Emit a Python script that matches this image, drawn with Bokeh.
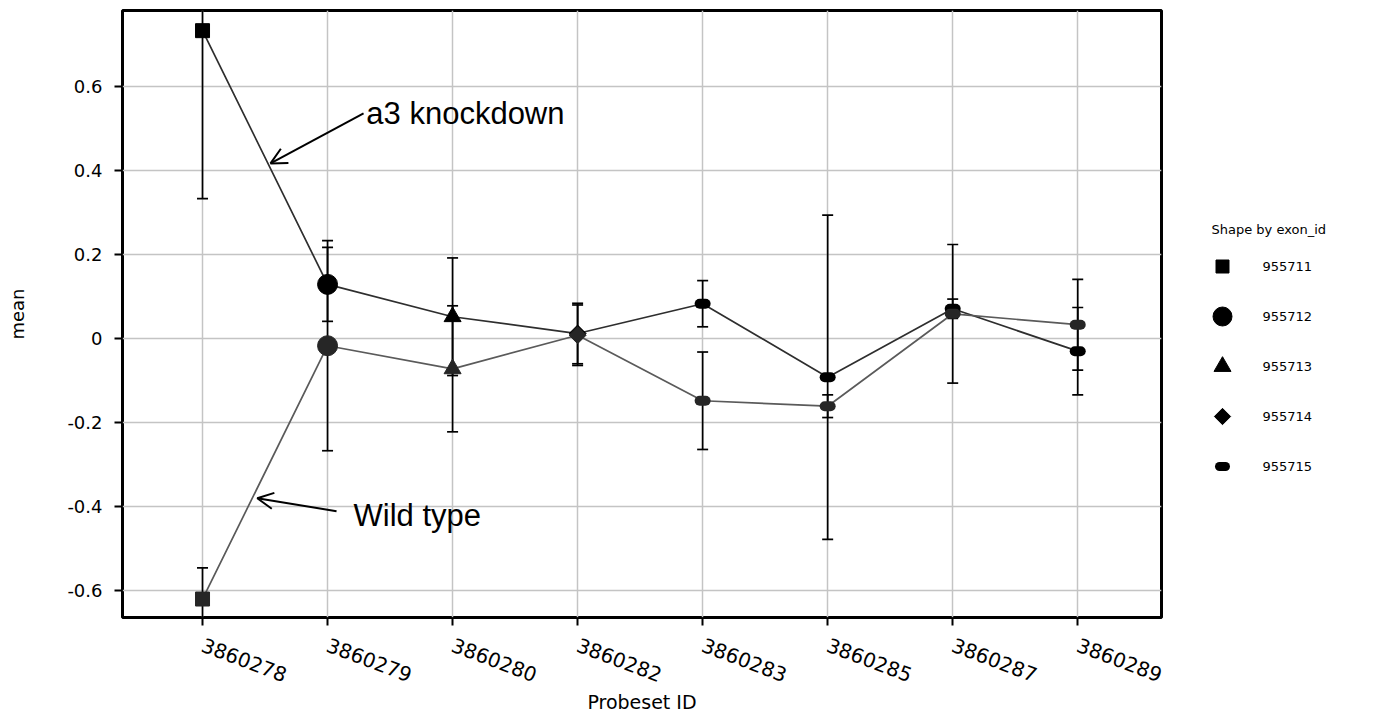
import math
from bokeh.plotting import figure
from bokeh.models import Range1d, FixedTicker, ColumnDataSource, Arrow, OpenHead, Label, CDSView, GroupFilter
from bokeh.layouts import row
from bokeh.embed import file_html
from bokeh.resources import INLINE

# ---- data ----
probesets = ["3860278", "3860279", "3860280", "3860282",
             "3860283", "3860285", "3860287", "3860289"]
exon_ids = ["955711", "955712", "955713", "955714",
            "955715", "955715", "955715", "955715"]
knockdown_mean = [0.733, 0.129, 0.052, 0.012, 0.083, -0.092, 0.071, -0.030]
knockdown_err = [0.400, 0.088, 0.140, 0.072, 0.055, 0.386, 0.023, 0.104]
wild_mean = [-0.620, -0.017, -0.072, 0.008, -0.148, -0.161, 0.059, 0.033]
wild_err = [0.074, 0.250, 0.150, 0.072, 0.116, 0.027, 0.165, 0.108]
shape_order = ["955711", "955712", "955713", "955714", "955715"]
y_ticks = [-0.6, -0.4, -0.2, 0.0, 0.2, 0.4, 0.6]
y_tick_labels = ["-0.6", "-0.4", "-0.2", "0", "0.2", "0.4", "0.6"]

x_idx = list(range(len(probesets)))

styles = {
    "955711": dict(marker="square", size=14, angle=0.0),
    "955712": dict(marker="circle", size=20, angle=0.0),
    "955713": dict(marker="triangle", size=17, angle=0.0),
    "955714": dict(marker="square", size=12, angle=math.pi / 4),
    "955715": dict(marker="dash", size=6, angle=0.0),
}

FONT = "DejaVu Sans"
BT, BB = 10, 99          # top / bottom borders shared by both panels
H = 716

p = figure(width=1190, height=H, output_backend="svg", toolbar_location=None,
           x_range=Range1d(-0.64, 7.67), y_range=Range1d(-0.664, 0.781),
           min_border_left=122, min_border_right=29, min_border_top=BT,
           min_border_bottom=BB)
p.background_fill_color = "white"
p.border_fill_color = "white"
p.outline_line_color = "black"
p.outline_line_width = 3

p.xaxis.ticker = FixedTicker(ticks=x_idx)
p.xaxis.major_label_overrides = {i: lab for i, lab in enumerate(probesets)}
p.xaxis.major_label_orientation = -0.36
p.xaxis.axis_label = "Probeset ID"
p.yaxis.ticker = FixedTicker(ticks=y_ticks)
p.yaxis.major_label_overrides = {t: s for t, s in zip(y_ticks, y_tick_labels)}
p.yaxis.axis_label = "mean"

for ax in (p.xaxis[0], p.yaxis[0]):
    ax.axis_line_color = None
    ax.major_tick_out = 8
    ax.major_tick_in = 0
    ax.major_tick_line_width = 2
    ax.major_tick_line_color = "black"
    ax.minor_tick_line_color = None
    ax.major_label_text_font = FONT
    ax.major_label_text_color = "black"
    ax.axis_label_text_font = FONT
    ax.axis_label_text_font_style = "normal"
    ax.axis_label_text_color = "black"
p.yaxis.major_label_text_font_size = "18px"
p.yaxis.major_label_standoff = 12
p.yaxis.axis_label_text_font_size = "18px"
p.yaxis.axis_label_standoff = 36
p.xaxis.major_label_text_font_size = "20px"
p.xaxis.major_label_standoff = 19
p.xaxis.axis_label_text_font_size = "19px"
p.xaxis.axis_label_standoff = -1

p.xgrid.grid_line_color = "#c4c4c4"
p.ygrid.grid_line_color = "#c4c4c4"
p.xgrid.grid_line_width = 1.5
p.ygrid.grid_line_width = 1.5

series = [
    (knockdown_mean, knockdown_err, "#2e2e2e", "#000000"),
    (wild_mean, wild_err, "#5a5a5a", "#262626"),
]

for means, errs, lcol, mcol in series:
    src = ColumnDataSource(dict(
        x=x_idx, y=means,
        upper=[m + e for m, e in zip(means, errs)],
        lower=[m - e for m, e in zip(means, errs)],
        exon=exon_ids))
    p.line("x", "y", source=src, line_color=lcol, line_width=1.7)
    p.segment(x0="x", y0="lower", x1="x", y1="upper", source=src,
              line_color="black", line_width=1.7)
    p.scatter("x", "upper", source=src, marker="dash", size=11,
              line_color="black", line_width=1.7)
    p.scatter("x", "lower", source=src, marker="dash", size=11,
              line_color="black", line_width=1.7)

for means, errs, lcol, mcol in series:
    src = ColumnDataSource(dict(x=x_idx, y=means, exon=exon_ids))
    for eid in shape_order:
        st = styles[eid]
        view = CDSView(filter=GroupFilter(column_name="exon", group=eid))
        if st["marker"] == "dash":
            p.scatter("x", "y", source=src, view=view, marker="dash",
                      size=st["size"], line_color=mcol, line_width=10,
                      line_cap="round")
        else:
            p.scatter("x", "y", source=src, view=view, marker=st["marker"],
                      size=st["size"], angle=st["angle"],
                      fill_color=mcol, line_color=mcol, line_width=1)

# annotations
p.add_layout(Arrow(end=OpenHead(size=16, line_width=2, line_color="black"),
                   x_start=1.288, y_start=0.536, x_end=0.544, y_end=0.417,
                   line_width=2, line_color="black"))
p.add_layout(Label(x=1.31, y=0.536, text="a3 knockdown",
                   text_font="Liberation Sans", text_font_size="31px",
                   text_baseline="alphabetic", text_color="black"))
p.add_layout(Arrow(end=OpenHead(size=16, line_width=2, line_color="black"),
                   x_start=1.072, y_start=-0.411, x_end=0.438, y_end=-0.380,
                   line_width=2, line_color="black"))
p.add_layout(Label(x=1.208, y=-0.422, text="Wild type",
                   text_font="Liberation Sans", text_font_size="31px",
                   text_baseline="alphabetic", text_color="black"))

# legend panel (coordinates = page pixels)
LW = 176
leg = figure(width=LW, height=H, output_backend="svg", toolbar_location=None,
             x_range=Range1d(1190, 1190 + LW), y_range=Range1d(H - BB, BT),
             min_border_left=0, min_border_right=0,
             min_border_top=BT, min_border_bottom=BB)
leg.axis.visible = False
leg.xgrid.visible = False
leg.ygrid.visible = False
leg.outline_line_color = None
leg.background_fill_color = "white"
leg.border_fill_color = "white"

leg.add_layout(Label(x=1211, y=229, text="Shape by exon_id", text_font=FONT,
                     text_font_size="13px", text_baseline="middle",
                     text_color="black"))
for i, eid in enumerate(shape_order):
    st = styles[eid]
    yy = 266 + 50 * i
    if st["marker"] == "dash":
        leg.scatter([1222], [yy], marker="dash", size=6,
                    line_color="black", line_width=9, line_cap="round")
    else:
        sz = {"955711": 13, "955712": 19, "955713": 17, "955714": 11.5}[eid]
        leg.scatter([1222], [yy], marker=st["marker"], size=sz, angle=st["angle"],
                    fill_color="black", line_color="black", line_width=1)
    leg.add_layout(Label(x=1262, y=yy, text=eid, text_font=FONT,
                         text_font_size="13px", text_baseline="middle",
                         text_color="black"))

layout = row(p, leg)
open("out.html", "w").write(file_html(layout, INLINE))
